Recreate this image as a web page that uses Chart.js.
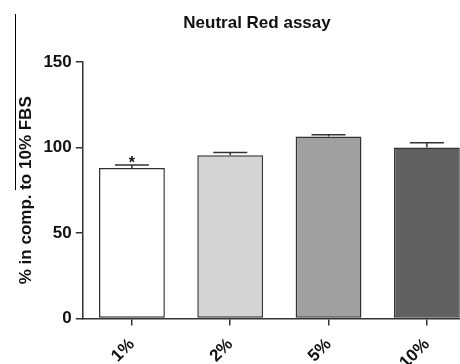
<!DOCTYPE html>
<html>
<head>
<meta charset="utf-8">
<script src="https://cdn.jsdelivr.net/npm/chart.js@4"></script>
<style>
html,body{margin:0;padding:0;background:#fff;overflow:hidden;width:460px;height:364px;}
#wrap{position:absolute;left:0;top:0;width:482px;height:382px;}
</style>
</head>
<body>
<div id="wrap"><canvas id="c" width="482" height="382"></canvas></div>
<script>
const categories = ['1%', '2%', '5%', '10%'];
const means = [88, 95.5, 106.5, 100];
const errors = [1.8, 1.6, 1.0, 2.8];
const significance = ['*', '', '', ''];
const yTicks = [0, 50, 100, 150];
const barColors = ['#ffffff', '#d4d4d4', '#a0a0a0', '#606060'];
const titleText = 'Neutral Red assay';
const yTitle = '% in comp. to 10% FBS';

const FONT = '"Liberation Sans", Arial, Helvetica, sans-serif';

const extras = {
  id: 'extras',
  afterDatasetsDraw(chart) {
    const ctx = chart.ctx;
    const meta = chart.getDatasetMeta(0);
    const y = chart.scales.y;
    ctx.save();
    ctx.strokeStyle = '#333';
    ctx.lineWidth = 1.5;
    meta.data.forEach((bar, i) => {
      const x = bar.x;
      const yTop = y.getPixelForValue(means[i] + errors[i]);
      const yBase = bar.y;
      const half = 17;
      ctx.beginPath();
      ctx.moveTo(x, yBase);
      ctx.lineTo(x, yTop);
      ctx.moveTo(x - half, yTop);
      ctx.lineTo(x + half, yTop);
      ctx.stroke();
      if (significance[i]) {
        ctx.fillStyle = '#111';
        ctx.font = 'bold 16px ' + FONT;
        ctx.textAlign = 'center';
        ctx.textBaseline = 'alphabetic';
        ctx.fillText(significance[i], x, yTop + 3);
      }
    });
    // title
    ctx.fillStyle = '#111';
    ctx.font = 'bold 17px ' + FONT;
    ctx.textAlign = 'center';
    ctx.textBaseline = 'middle';
    ctx.fillText(titleText, 257, 23);
    // stray vertical line
    ctx.strokeStyle = '#000';
    ctx.lineWidth = 1;
    ctx.beginPath();
    ctx.moveTo(15.5, 14);
    ctx.lineTo(15.5, 190);
    ctx.stroke();
    ctx.restore();
  }
};

new Chart(document.getElementById('c'), {
  type: 'bar',
  data: {
    labels: categories,
    datasets: [{
      data: means,
      backgroundColor: barColors,
      borderColor: '#333',
      borderWidth: 1.5,
      borderSkipped: false,
      categoryPercentage: 0.67,
      barPercentage: 1.0
    }]
  },
  options: {
    responsive: false,
    animation: false,
    devicePixelRatio: 1,
    layout: { padding: { top: 62, left: 16, right: 6, bottom: 0 } },
    plugins: { legend: { display: false }, title: { display: false }, tooltip: { enabled: false } },
    scales: {
      x: {
        offset: true,
        grid: { display: true, offset: false, drawOnChartArea: false, drawTicks: true, tickLength: 7, color: '#333', lineWidth: 1.5 },
        border: { display: true, color: '#333', width: 1.5 },
        ticks: {
          color: '#111', font: { family: FONT, size: 17, weight: 'bold' },
          minRotation: 45, maxRotation: 45, padding: 9
        }
      },
      y: {
        min: 0, max: 150,
        afterBuildTicks(scale) { scale.ticks = yTicks.map(v => ({ value: v })); },
        grid: { display: true, drawOnChartArea: false, drawTicks: true, tickLength: 7, color: '#333', lineWidth: 1.5 },
        border: { display: true, color: '#333', width: 1.5 },
        ticks: { color: '#111', font: { family: FONT, size: 17, weight: 'bold' }, padding: 4 },
        title: {
          display: true, text: yTitle, color: '#111',
          font: { family: FONT, size: 17, weight: 'bold' },
          padding: { top: 0, bottom: 3 }
        }
      }
    }
  },
  plugins: [extras]
});
</script>
</body>
</html>
